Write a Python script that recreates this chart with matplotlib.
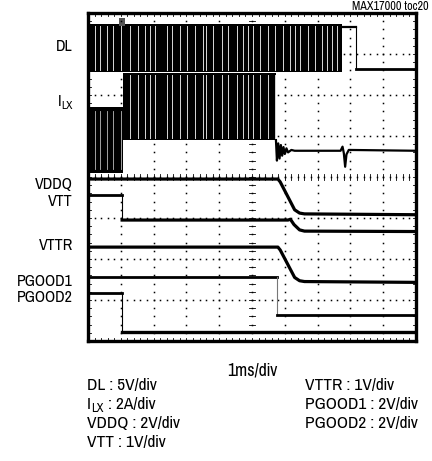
import matplotlib
matplotlib.use('Agg')
import matplotlib.pyplot as plt
from matplotlib import font_manager
import numpy as np

# ---------------- data (x: ms = divisions from left, y: divisions from bottom) ----------
# DL switching block and its tail
dl_switch_x = [0.0, 7.74]
dl_switch_lo = 6.56
dl_switch_hi = 7.73
dl_tail_x = [7.74, 8.17, 8.17, 10.0]
dl_tail_y = [7.66, 7.66, 6.63, 6.63]
# positions of bright gaps seen inside the switching blocks
gap_x = [0.21, 0.37, 0.58, 0.76, 1.0, 1.28, 1.52, 1.74, 1.89, 2.04, 2.41, 2.56, 2.80,
         3.02, 3.26, 3.51, 3.60, 3.81, 4.09, 4.27, 4.54, 4.73, 4.88, 5.03, 5.24, 5.49,
         5.70, 5.95, 6.16, 6.31, 6.46, 6.71, 6.92, 7.13, 7.29, 7.44, 7.59]

# ILX switching blocks and tail
ilx_sw1_x = [0.0, 1.07]
ilx_sw1_lo = 4.10
ilx_sw1_hi = 5.70
ilx_sw2_x = [1.07, 5.73]
ilx_sw2_lo = 4.90
ilx_sw2_hi = 6.54
ilx_tail_x = [5.73, 5.76, 5.80, 5.84, 5.88, 5.92, 5.96, 6.00, 6.05, 6.10, 6.20, 6.30,
              7.70, 7.76, 7.80, 7.84, 7.88, 7.95, 10.0]
ilx_tail_y = [4.90, 4.40, 4.82, 4.45, 4.78, 4.52, 4.73, 4.56, 4.70, 4.60, 4.66, 4.64,
              4.64, 4.74, 4.58, 4.25, 4.55, 4.66, 4.64]

# VDDQ
vddq_x = [0.0, 5.79, 5.86, 6.30, 6.45, 6.60, 10.0]
vddq_y = [3.95, 3.95, 3.88, 3.20, 3.12, 3.10, 3.08]
# VTT
vtt_x = [0.0, 1.04, 1.04, 6.10, 6.17, 6.28, 6.45, 6.60, 10.0]
vtt_y = [3.56, 3.56, 2.95, 2.95, 2.97, 2.84, 2.71, 2.68, 2.67]
# VTTR
vttr_x = [0.0, 5.79, 5.86, 6.30, 6.45, 6.60, 10.0]
vttr_y = [2.29, 2.29, 2.22, 1.55, 1.47, 1.45, 1.43]
# PGOOD1
pg1_x = [0.0, 5.76, 5.76, 10.0]
pg1_y = [1.56, 1.56, 0.63, 0.63]
# PGOOD2
pg2_x = [0.0, 1.04, 1.04, 10.0]
pg2_y = [1.18, 1.18, 0.22, 0.22]

# labels (subscripted ILX kept as base + subscript parts)
ch_labels = ['DL', ('I', 'LX', ''), 'VDDQ', 'VTT', 'VTTR', 'PGOOD1', 'PGOOD2']
scale_left = ['DL : 5V/div', ('I', 'LX', ' : 2A/div'), 'VDDQ : 2V/div', 'VTT : 1V/div']
scale_right = ['VTTR : 1V/div', 'PGOOD1 : 2V/div', 'PGOOD2 : 2V/div']
time_label = '1ms/div'
fig_id = 'MAX17000 toc20'

# ---------------- font: prefer a narrow / condensed sans ----------------
def pick_font():
    files = [f.fname for f in font_manager.fontManager.ttflist]
    for key in ['LiberationSansNarrow-Regular', 'SansNarrow', 'Narrow-Regular', 'DejaVuSansCondensed.',
                'Condensed-Regular', 'RobotoCondensed']:
        for fn in files:
            if key.lower() in fn.lower() and 'bold' not in fn.lower() and 'oblique' not in fn.lower() \
                    and 'italic' not in fn.lower():
                return font_manager.FontProperties(fname=fn), True
    return font_manager.FontProperties(family='Liberation Sans'), False

FP, NARROW = pick_font()
size_scale = 1.0 if NARROW else 0.86

def fp(size):
    p = FP.copy()
    p.set_size(size * size_scale)
    return p

# ---------------- figure ----------------
W, H = 432, 461
fig = plt.figure(figsize=(W / 100, H / 100), dpi=100)
L, R, T, B = 88, 416, 13, 341
ax = fig.add_axes([L / W, 1 - B / H, (R - L) / W, (B - T) / H])
ax.set_xlim(0, 10)
ax.set_ylim(0, 8)
ax.set_xticks([])
ax.set_yticks([])
for s in ax.spines.values():
    s.set_linewidth(2.4)
    s.set_color('black')

# graticule dots
fine = np.arange(0, 10.001, 0.2)
fine_y = np.arange(0, 8.001, 0.2)
for gx in range(1, 10):
    ax.plot(np.full_like(fine_y, gx), fine_y, ls='none', marker='s', ms=1.1, color='black', mew=0)
for gy in range(1, 8):
    ax.plot(fine, np.full_like(fine, gy), ls='none', marker='s', ms=1.1, color='black', mew=0)
# center axes ticks and edge ticks
for xx in fine:
    ax.plot([xx, xx], [3.92, 4.08], color='black', lw=0.6)
    ax.plot([xx, xx], [0, 0.07], color='black', lw=0.6)
    ax.plot([xx, xx], [8, 7.93], color='black', lw=0.6)
for yy in fine_y:
    ax.plot([4.9, 5.1], [yy, yy], color='black', lw=0.6)
    ax.plot([0, 0.09], [yy, yy], color='black', lw=0.6)
    ax.plot([10, 9.91], [yy, yy], color='black', lw=0.6)

# DL
ax.fill_between(dl_switch_x, dl_switch_lo, dl_switch_hi, color='black', lw=0)
for g in gap_x:
    if g < dl_switch_x[1]:
        ax.plot([g, g], [dl_switch_lo + 0.05, dl_switch_hi - 0.05], color='white', lw=0.7, alpha=0.85)
ax.plot(dl_tail_x[:2], dl_tail_y[:2], color='black', lw=1.6)
ax.plot(dl_tail_x[1:3], dl_tail_y[1:3], color='black', lw=0.8)
ax.plot(dl_tail_x[2:], dl_tail_y[2:], color='black', lw=2.0)
# trigger marker
ax.fill_between([0.93, 1.12], 7.68, 7.88, color='#555555', lw=0)

# ILX
ax.fill_between(ilx_sw1_x, ilx_sw1_lo, ilx_sw1_hi, color='black', lw=0)
ax.fill_between(ilx_sw2_x, ilx_sw2_lo, ilx_sw2_hi, color='black', lw=0)
for g in gap_x:
    if g < ilx_sw1_x[1]:
        ax.plot([g, g], [ilx_sw1_lo + 0.1, ilx_sw1_hi - 0.1], color='#bbbbbb', lw=0.6)
    elif g < ilx_sw2_x[1]:
        ax.plot([g, g], [ilx_sw2_lo + 0.05, ilx_sw2_hi - 0.05], color='white', lw=0.7, alpha=0.85)
ax.plot(ilx_tail_x, ilx_tail_y, color='black', lw=1.6)

# analog traces
ax.plot(vddq_x, vddq_y, color='black', lw=2.3)
ax.plot(vtt_x[:2], vtt_y[:2], color='black', lw=2.0)
ax.plot(vtt_x[1:3], vtt_y[1:3], color='black', lw=0.8)
ax.plot(vtt_x[2:], vtt_y[2:], color='black', lw=2.3)
ax.plot(vttr_x, vttr_y, color='black', lw=2.3)
ax.plot(pg1_x[:2], pg1_y[:2], color='black', lw=2.0)
ax.plot(pg1_x[1:3], pg1_y[1:3], color='#777777', lw=0.8)
ax.plot(pg1_x[2:], pg1_y[2:], color='black', lw=2.0)
ax.plot(pg2_x[:2], pg2_y[:2], color='black', lw=2.0)
ax.plot(pg2_x[1:3], pg2_y[1:3], color='black', lw=0.8)
ax.plot(pg2_x[2:], pg2_y[2:], color='black', lw=2.4)

# ---------------- text ----------------
def fx(px):
    return px / W

def fy(py):
    return 1 - py / H

renderer = fig.canvas.get_renderer()

def width_px(t):
    return t.get_window_extent(renderer=renderer).width

def put(x_px, y_px, label, size, ha):
    """Draw label at baseline y_px; label may be (base, subscript, rest)."""
    if isinstance(label, str):
        fig.text(fx(x_px), fy(y_px), label, ha=ha, va='baseline', fontproperties=fp(size))
        return
    base, sub, rest = label
    parts = [(base, size, 0), (sub, size * 0.72, 3), (rest, size, 0)]
    widths = []
    total = 0
    for s_, sz, dy in parts:
        if not s_:
            widths.append(0)
            continue
        t = fig.text(0, 0, s_, fontproperties=fp(sz))
        w = width_px(t)
        t.remove()
        widths.append(w)
        total += w
    x0 = x_px - total if ha == 'right' else x_px
    for (s_, sz, dy), w in zip(parts, widths):
        if s_:
            fig.text(fx(x0), fy(y_px + dy), s_, ha='left', va='baseline', fontproperties=fp(sz))
        x0 += w

lab_y = [51, 106, 189, 206, 250, 286, 302]
for t, yy in zip(ch_labels, lab_y):
    put(73, yy, t, 12.5, 'right')

fig.text(fx(429), fy(9.5), fig_id, ha='right', va='baseline', fontproperties=fp(9.5))
fig.text(fx(252), fy(375), time_label, ha='center', va='baseline', fontproperties=fp(13.8))
left_y = [390, 409, 428, 447]
for t, yy in zip(scale_left, left_y):
    put(87, yy, t, 13.6, 'left')
for t, yy in zip(scale_right, left_y[:3]):
    put(305, yy, t, 13.6, 'left')

fig.savefig('out.png', dpi=100)
